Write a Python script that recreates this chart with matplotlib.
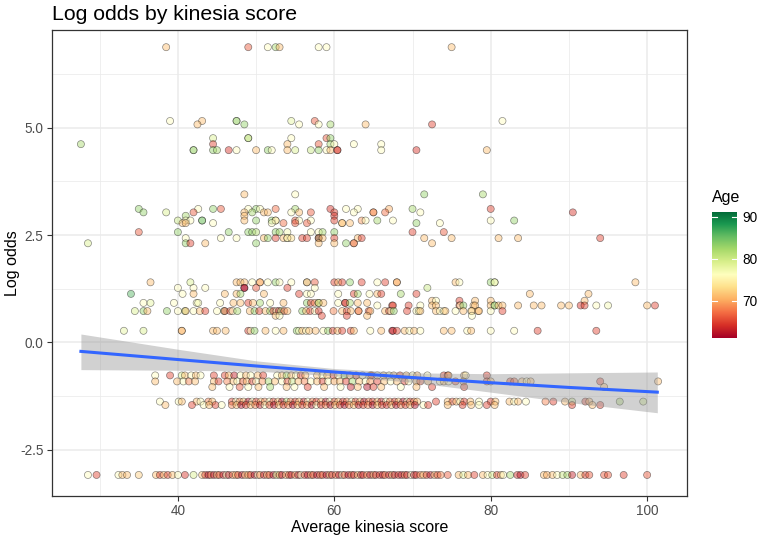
import numpy as np
import matplotlib.pyplot as plt

plt.rcParams['font.family'] = ['Liberation Sans', 'DejaVu Sans']

# (average kinesia score, age) for every patient, grouped by log odds level
lo_688 = [(38.5, 71), (49.0, 66), (51.5, 76), (52.5, 82), (53.0, 71), (58.0, 76), (59.0, 76), (75.0, 71)]
lo_516 = [(39.0, 76), (43.1, 71), (47.5, 76), (47.5, 84), (54.5, 78), (57.5, 66), (81.5, 76)]
lo_508 = [(42.5, 71), (48.5, 83), (55.5, 76), (58.0, 76), (59.5, 82), (64.0, 71), (72.5, 65)]
lo_476 = [(44.5, 79), (49.0, 76), (49.0, 82), (54.5, 76), (59.0, 66), (59.5, 83)]
lo_462 = [(27.6, 82), (44.5, 65), (54.0, 71), (58.0, 66), (59.5, 82), (60.0, 76), (62.5, 76), (66.0, 76)]
lo_448 = [(42.0, 76), (42.0, 84), (44.5, 83), (45.0, 82), (46.5, 64), (47.5, 76), (50.0, 71), (51.5, 83),
          (52.0, 76), (54.0, 71), (55.0, 79), (57.0, 80), (58.0, 83), (59.0, 76), (59.5, 71), (60.4, 63),
          (60.4, 66), (66.0, 76), (70.5, 64), (79.5, 71)]
lo_345 = [(48.5, 71), (55.0, 76), (71.5, 83), (79.0, 82)]
lo_311 = [(35.0, 83), (42.6, 76), (44.5, 83), (45.5, 66), (49.0, 76), (50.0, 83), (50.5, 76), (52.5, 67),
          (55.0, 82), (59.5, 64), (61.5, 76), (63.0, 76), (67.0, 70), (70.0, 82), (80.0, 65)]
lo_303 = [(35.6, 83), (38.5, 79), (42.0, 66), (48.5, 71), (49.5, 82), (51.0, 71), (51.5, 71), (54.5, 76),
          (55.5, 71), (57.0, 66), (60.0, 65), (62.5, 76), (65.0, 70), (65.0, 68), (66.5, 67), (71.0, 76),
          (90.5, 64)]
lo_295 = [(41.0, 82), (48.5, 71), (60.0, 64)]
lo_284 = [(40.0, 80), (41.0, 76), (41.6, 76), (43.1, 76), (43.1, 86), (48.5, 71), (50.0, 83), (52.0, 83),
          (52.5, 76), (52.5, 74), (55.0, 66), (55.5, 76), (57.0, 76), (60.0, 65), (63.5, 69), (64.0, 76),
          (65.5, 82), (67.5, 76), (80.0, 76), (83.0, 83)]
lo_278 = [(40.6, 71), (41.0, 71), (44.5, 76), (52.0, 76), (53.5, 67), (55.0, 66), (56.5, 66), (61.0, 70),
          (61.0, 72), (62.0, 71), (70.5, 83), (73.5, 76)]
lo_257 = [(35.0, 66), (40.0, 83), (46.5, 83), (49.0, 83), (49.5, 83), (50.0, 81), (52.5, 83), (53.0, 82),
          (54.0, 77), (57.0, 76), (58.0, 76), (58.5, 82), (60.0, 83), (70.0, 65), (74.0, 66)]
lo_243 = [(41.0, 76), (45.5, 76), (47.5, 76), (51.0, 71), (51.5, 83), (52.5, 65), (53.5, 71), (54.0, 73),
          (54.0, 76), (54.5, 73), (55.9, 65), (56.5, 65), (58.0, 88), (58.0, 65), (58.5, 71), (60.0, 65),
          (63.0, 71), (63.5, 65), (71.5, 71), (75.0, 71), (81.0, 71), (83.5, 71), (94.0, 65)]
lo_231 = [(28.5, 79), (41.0, 83), (41.6, 65), (43.5, 71), (50.0, 83), (58.0, 71), (60.0, 71), (61.5, 83),
          (62.5, 64), (62.5, 70), (72.5, 71)]
lo_140 = [(36.5, 71), (41.6, 79), (47.5, 71), (48.0, 71), (48.5, 71), (49.5, 76), (50.5, 69), (50.5, 71),
          (51.5, 76), (52.5, 83), (53.0, 76), (54.5, 76), (56.5, 66), (56.5, 78), (57.5, 66), (60.0, 65),
          (60.5, 71), (61.0, 65), (62.0, 83), (63.5, 65), (65.5, 76), (66.5, 65), (68.0, 69), (68.0, 71),
          (75.5, 71), (76.0, 76), (80.0, 83), (80.5, 80), (80.5, 76), (98.5, 71)]
lo_127 = [(40.0, 76), (42.0, 76), (43.5, 76), (48.5, 61), (48.5, 62), (50.0, 66), (54.0, 65), (57.5, 76),
          (71.9, 80)]
lo_113 = [(34.0, 86), (40.6, 76), (42.0, 71), (46.0, 71), (47.5, 71), (48.0, 82), (51.0, 71), (55.5, 65),
          (56.5, 76), (57.0, 76), (60.5, 76), (62.5, 65), (63.0, 82), (64.5, 76), (65.5, 71), (66.0, 65),
          (68.5, 82), (70.5, 65), (85.0, 71), (92.5, 71)]
lo_097 = [(72.5, 71), (73.0, 76), (76.0, 65), (78.0, 71), (80.0, 71), (92.0, 71)]
lo_092 = [(35.6, 76), (36.5, 78), (39.5, 76), (42.4, 76), (42.6, 77), (45.4, 76), (47.1, 71), (48.0, 71),
          (49.0, 65), (49.6, 71), (50.5, 82), (51.8, 76), (53.5, 71), (56.5, 83), (57.0, 65), (57.5, 68),
          (58.0, 72), (58.0, 82), (58.6, 71), (60.5, 76), (61.4, 62), (61.4, 66), (62.0, 82), (63.0, 71),
          (64.2, 71)]
lo_086 = [(65.5, 76), (67.4, 65), (67.5, 65), (69.5, 65), (71.0, 76), (72.5, 71), (73.0, 71), (76.0, 65),
          (76.1, 76), (76.5, 83), (77.8, 71), (78.0, 71), (80.0, 71), (80.5, 76), (80.5, 84), (81.0, 71),
          (81.5, 71), (83.5, 71), (85.5, 71), (86.5, 71), (89.0, 71), (90.0, 71), (91.5, 64), (92.0, 65),
          (93.5, 76), (95.0, 77), (100.0, 71), (101.0, 65)]
lo_073 = [(34.5, 79), (35.6, 83), (36.1, 71), (38.6, 83), (40.0, 76), (40.9, 82), (41.0, 71), (42.0, 76),
          (42.8, 71), (43.5, 65), (45.0, 76), (45.9, 82), (46.0, 65), (46.7, 66), (47.0, 76), (47.6, 82),
          (49.2, 71), (49.8, 83), (50.4, 65), (51.2, 71), (51.8, 82), (52.2, 64), (52.6, 76), (52.9, 63),
          (53.2, 82), (53.6, 66), (54.0, 71), (55.9, 83), (56.4, 71), (56.9, 65), (57.5, 76), (58.0, 64),
          (59.9, 68), (61.0, 71), (61.6, 65), (62.1, 71), (63.1, 65), (63.1, 70), (64.4, 65), (64.6, 71),
          (66.5, 71), (67.0, 65), (67.2, 76), (67.6, 83), (69.3, 65), (70.5, 76), (70.8, 77), (71.0, 71),
          (73.0, 71), (73.5, 76), (74.0, 76), (74.2, 71), (75.5, 76), (76.5, 71), (77.5, 76), (77.6, 71),
          (78.4, 71), (78.5, 71), (80.0, 76), (81.5, 65)]
lo_062 = [(52.5, 71), (53.0, 76), (58.4, 65), (61.6, 65), (64.2, 71), (77.6, 76)]
lo_027 = [(33.1, 78), (35.6, 79), (40.5, 69), (40.5, 72), (44.5, 71), (45.0, 71), (46.1, 71), (49.0, 65),
          (49.3, 76), (49.8, 83), (51.2, 71), (52.5, 76), (53.5, 71), (55.2, 83), (55.5, 76), (55.9, 71),
          (56.4, 76), (56.8, 71), (57.6, 71), (58.6, 76), (59.2, 83), (59.8, 65), (60.4, 71), (61.0, 65),
          (62.1, 65), (62.5, 71), (64.6, 76), (66.0, 71), (67.4, 65), (67.5, 62), (68.0, 65), (69.0, 71),
          (69.6, 76), (70.2, 71), (71.0, 76), (74.0, 71), (75.0, 71), (77.0, 76), (77.5, 71), (80.0, 76),
          (83.0, 76), (86.0, 65), (93.5, 65)]
lo_m077 = [(37.1, 76), (39.0, 65), (40.5, 79), (40.9, 71), (41.7, 76), (42.3, 71), (42.9, 76), (44.6, 65),
           (46.0, 65), (46.5, 71), (47.2, 63), (48.0, 76), (48.7, 71), (49.3, 76), (50.2, 71), (50.9, 65),
           (52.7, 76), (53.3, 71), (53.9, 82), (54.5, 71), (55.1, 76), (55.7, 65), (56.3, 71), (57.8, 71),
           (58.5, 76), (59.1, 71), (59.9, 65), (60.5, 76), (61.3, 83), (62.0, 71), (62.8, 65), (63.6, 76),
           (64.6, 71), (64.8, 65), (65.5, 76), (66.3, 71), (67.0, 76), (67.6, 71), (68.4, 65), (69.2, 71),
           (70.0, 76), (70.6, 71), (71.9, 76), (74.0, 65), (74.5, 65), (74.6, 71), (76.6, 71), (76.8, 76),
           (79.5, 65)]
lo_m091 = [(37.1, 71), (39.9, 71), (40.7, 76), (41.4, 68), (42.2, 71), (44.6, 71), (45.2, 65), (46.3, 68),
           (47.1, 71), (47.6, 76), (48.3, 67), (48.8, 71), (49.5, 65), (50.0, 76), (50.8, 69), (51.6, 82),
           (52.4, 71), (53.3, 76), (54.0, 66), (54.6, 80), (55.4, 71), (56.2, 68), (57.0, 76), (57.8, 71),
           (58.5, 65), (59.2, 76), (60.0, 70), (60.7, 71), (61.5, 65), (62.3, 82), (63.2, 71), (64.0, 76),
           (64.6, 69), (65.5, 65), (66.4, 71), (67.2, 76), (68.0, 71), (69.0, 65), (69.5, 76), (70.5, 71),
           (71.0, 66), (72.0, 71), (73.5, 76), (74.0, 71), (74.6, 76), (75.5, 65), (76.5, 71), (79.5, 65),
           (80.0, 71), (82.5, 65), (83.0, 66), (84.0, 71), (84.6, 76), (85.1, 71), (94.0, 65), (101.4, 71)]
lo_m104 = [(44.4, 71), (46.6, 76), (47.9, 66), (49.0, 76), (50.3, 71), (51.8, 82), (53.9, 71), (54.9, 76),
           (56.6, 65), (58.7, 71), (60.8, 76), (62.1, 63), (63.0, 71), (64.2, 62), (65.0, 65), (66.0, 71),
           (68.5, 76), (70.5, 71), (72.5, 65), (76.6, 65), (94.5, 71)]
lo_m138 = [(37.7, 76), (40.1, 76), (40.5, 71), (42.4, 71), (42.9, 76), (43.9, 68), (44.4, 71), (46.9, 65),
           (47.4, 76), (47.9, 68), (48.4, 71), (49.0, 62), (49.5, 76), (50.0, 65), (50.6, 71), (51.1, 68),
           (51.7, 76), (52.2, 65), (52.8, 71), (53.3, 62), (53.9, 80), (54.4, 68), (55.0, 65), (55.5, 71),
           (56.1, 63), (56.6, 76), (57.2, 68), (57.7, 65), (58.3, 71), (58.9, 62), (59.4, 76), (60.0, 66),
           (60.5, 71), (61.1, 64), (61.6, 68), (62.2, 76), (62.7, 65), (63.3, 71), (63.8, 62), (64.4, 68),
           (64.9, 65), (65.5, 71), (66.0, 63), (66.6, 76), (67.1, 68), (67.7, 65), (68.2, 71), (68.8, 62),
           (69.3, 76), (69.7, 65), (70.2, 68), (70.6, 71), (73.0, 65), (74.5, 71), (75.1, 66), (75.6, 71),
           (76.1, 76), (76.6, 65), (77.4, 71), (78.5, 76), (80.0, 65), (80.6, 71), (82.4, 71), (83.0, 76),
           (83.5, 71), (84.5, 76), (87.0, 68), (88.0, 65), (89.5, 71), (90.4, 80), (92.1, 65), (92.6, 71),
           (96.5, 82), (99.5, 80)]
lo_m146 = [(38.4, 71), (41.8, 65), (43.3, 76), (44.0, 71), (44.8, 65), (45.6, 76), (46.9, 68), (47.5, 71),
           (48.1, 62), (48.7, 65), (49.3, 71), (49.9, 68), (50.5, 63), (51.1, 76), (51.7, 66), (52.3, 62),
           (52.9, 71), (53.5, 65), (54.1, 68), (54.7, 62), (55.3, 71), (55.9, 65), (56.5, 69), (57.1, 62),
           (57.7, 76), (58.3, 64), (58.9, 68), (59.5, 62), (60.1, 71), (60.7, 65), (61.3, 62), (61.9, 68),
           (62.5, 71), (63.1, 63), (63.7, 65), (64.3, 68), (64.9, 62), (65.5, 71), (66.1, 65), (66.7, 64),
           (67.3, 71), (67.9, 62), (68.5, 68), (69.1, 65), (69.7, 71), (70.3, 62), (71.4, 76), (72.0, 65),
           (74.5, 71), (76.4, 65), (77.5, 71), (78.5, 76), (79.5, 65), (80.5, 71), (90.4, 65), (93.0, 71),
           (94.0, 65)]
lo_m309 = [(28.5, 76), (29.6, 65), (32.4, 76), (32.9, 71), (33.5, 71), (35.0, 72), (37.2, 71), (37.7, 65),
           (38.2, 71), (38.7, 65), (39.3, 71), (40.0, 76), (40.9, 64), (42.0, 79), (43.1, 71), (43.5, 65),
           (43.9, 62), (44.2, 68), (44.6, 62), (45.0, 71), (45.3, 65), (45.8, 63), (46.2, 76), (46.5, 62),
           (47.0, 68), (47.4, 71), (47.7, 65), (48.2, 62), (48.6, 71), (49.0, 69), (49.3, 65), (49.8, 62),
           (50.2, 76), (50.5, 68), (51.0, 63), (51.4, 71), (51.7, 65), (52.2, 62), (52.6, 80), (53.0, 68),
           (53.3, 62), (53.8, 71), (54.2, 65), (54.5, 63), (55.0, 69), (55.4, 62), (55.7, 76), (56.2, 65),
           (56.6, 62), (57.0, 71), (57.3, 64), (57.8, 62), (58.2, 68), (58.5, 65), (59.0, 62), (59.4, 71),
           (59.7, 63), (60.2, 68), (60.6, 62), (61.0, 76), (61.3, 65), (61.8, 62), (62.2, 68), (62.5, 63),
           (63.0, 71), (63.4, 62), (63.7, 65), (64.2, 68), (64.6, 62), (65.0, 71), (65.3, 63), (65.8, 65),
           (66.2, 62), (66.5, 68), (67.0, 63), (67.4, 71), (67.7, 62), (68.2, 65), (68.6, 62), (69.0, 68),
           (69.3, 63), (69.8, 76), (70.2, 62), (70.5, 65), (71.0, 68), (71.4, 71), (71.8, 65), (72.3, 62),
           (72.8, 71), (73.2, 65), (73.6, 68), (74.5, 66), (75.9, 71), (76.5, 78), (77.1, 71), (77.9, 65),
           (79.0, 71), (79.6, 76), (80.2, 79), (80.8, 65), (81.3, 71), (81.6, 76), (82.5, 82), (83.4, 64),
           (83.8, 62), (84.4, 65), (86.8, 71), (87.2, 70), (87.9, 71), (88.5, 76), (89.2, 80), (89.8, 82),
           (90.4, 63), (91.5, 71), (92.1, 65), (92.6, 66), (94.5, 66), (95.0, 66), (97.0, 65), (100.0, 66)]

log_odds_levels = [6.88, 5.16, 5.08, 4.76, 4.62, 4.48, 3.45, 3.11, 3.03, 2.95, 2.84, 2.78, 2.57, 2.43,
                   2.31, 1.40, 1.27, 1.13, 0.97, 0.92, 0.86, 0.73, 0.62, 0.27, -0.77, -0.91, -1.04,
                   -1.38, -1.46, -3.09]
groups = [lo_688, lo_516, lo_508, lo_476, lo_462, lo_448, lo_345, lo_311, lo_303, lo_295, lo_284,
          lo_278, lo_257, lo_243, lo_231, lo_140, lo_127, lo_113, lo_097, lo_092, lo_086, lo_073,
          lo_062, lo_027, lo_m077, lo_m091, lo_m104, lo_m138, lo_m146, lo_m309]

# smoother and its confidence band
smooth_x = [27.6, 40, 50, 60, 70, 80, 90, 101.3]
smooth_fit = [-0.21, -0.40, -0.55, -0.69, -0.82, -0.94, -1.05, -1.16]
smooth_hi = [0.195, -0.16, -0.43, -0.61, -0.71, -0.73, -0.71, -0.69]
smooth_lo = [-0.635, -0.65, -0.67, -0.78, -0.93, -1.16, -1.40, -1.64]

age_min, age_max = 61.0, 91.2

kinesia, log_odds, age = [], [], []
for lvl, pts in zip(log_odds_levels, groups):
    for k, a in pts:
        kinesia.append(k)
        log_odds.append(lvl)
        age.append(a)

fig = plt.figure(figsize=(7.62, 5.38), dpi=100)
ax = fig.add_axes([0.0682, 0.0781, 0.8334, 0.8661])

cmap = plt.get_cmap('RdYlGn')
norm = plt.Normalize(age_min, age_max)
fills = cmap(norm(age))
fills[:, 3] = 0.45
ax.scatter(kinesia, log_odds, s=26, c=fills, edgecolors=(0, 0, 0, 0.45), linewidths=0.5, zorder=3)

ax.fill_between(smooth_x, smooth_lo, smooth_hi, color='#999999', alpha=0.45, lw=0, zorder=4)
ax.plot(smooth_x, smooth_fit, color='#3366FF', lw=2.2, zorder=5)

ax.set_xlim(23.9, 105.1)
ax.set_ylim(-3.58, 7.28)
ax.set_xticks([40, 60, 80, 100])
ax.set_yticks([-2.5, 0.0, 2.5, 5.0])
ax.set_yticklabels(['-2.5', '0.0', '2.5', '5.0'])
ax.set_xticks([30, 50, 70, 90], minor=True)
ax.set_yticks([-1.25, 1.25, 3.75, 6.25], minor=True)
ax.grid(which='major', color='#EBEBEB', lw=1.1, zorder=0)
ax.grid(which='minor', color='#EBEBEB', lw=0.55, zorder=0)
ax.set_axisbelow(True)
ax.tick_params(which='major', length=3.5, width=0.8, color='#333333', labelcolor='#4D4D4D',
               labelsize=9.8, pad=2.5)
ax.tick_params(which='minor', length=0)
for s in ax.spines.values():
    s.set_color('#333333')
    s.set_linewidth(0.9)

ax.set_xlabel('Average kinesia score', fontsize=11.5, labelpad=1)
ax.set_ylabel('Log odds', fontsize=11.5)
ax.yaxis.set_label_coords(-0.05, 0.5)
ax.set_title('Log odds by kinesia score', fontsize=15.3, loc='left', pad=7)

# colour bar legend
cax = fig.add_axes([0.934, 0.3712, 0.0328, 0.2353])
grad = np.linspace(age_min, age_max, 256).reshape(-1, 1)
cax.imshow(grad, aspect='auto', cmap=cmap, norm=norm, origin='lower',
           extent=[0, 1, age_min, age_max])
for t in [70, 80, 90]:
    cax.plot([0, 0.2], [t, t], color='white', lw=0.8)
    cax.plot([0.8, 1], [t, t], color='white', lw=0.8)
cax.set_xlim(0, 1)
cax.set_ylim(age_min, age_max)
cax.set_xticks([])
cax.yaxis.tick_right()
cax.set_yticks([70, 80, 90])
cax.tick_params(length=0, labelsize=9.8, pad=4)
for s in cax.spines.values():
    s.set_visible(False)
cax.set_title('Age', fontsize=11.5, loc='left', pad=7)

fig.savefig('out.png', dpi=100)
